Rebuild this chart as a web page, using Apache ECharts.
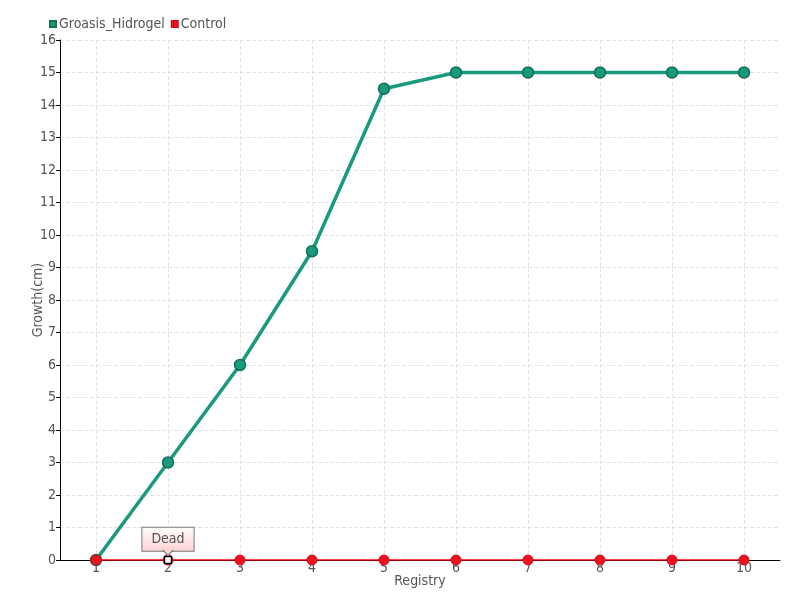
<!DOCTYPE html>
<html><head><meta charset="utf-8">
<script src="https://cdn.jsdelivr.net/npm/echarts@6/dist/echarts.min.js"></script>
<style>html,body{margin:0;padding:0;background:#fff}#c{width:800px;height:600px}</style>
</head><body><div id="c"></div>
<script>
const categories = ['1','2','3','4','5','6','7','8','9','10'];
const groasis = [0, 3, 6, 9.5, 14.5, 15, 15, 15, 15, 15];
const control = [0, 0, 0, 0, 0, 0, 0, 0, 0, 0];
const deadIndex = 1;
const FONT = '"DejaVu Sans Condensed", "Liberation Sans Narrow", sans-serif';
const chart = echarts.init(document.getElementById('c'));
chart.setOption({
  animation: false,
  textStyle: { fontFamily: FONT },
  legend: {
    left: 44, top: 12, itemWidth: 6, itemHeight: 6, itemGap: 6,
    icon: 'rect',
    textStyle: { fontFamily: FONT, fontSize: 14, color: '#555', padding: [0,0,0,-2] },
    data: ['Groasis_Hidrogel', 'Control']
  },
  grid: { left: 60, right: 20, top: 40, bottom: 40 },
  xAxis: {
    type: 'category', data: categories, boundaryGap: true,
    name: 'Registry', nameLocation: 'middle', nameGap: 14, nameMoveOverlap: false,
    nameTextStyle: { fontFamily: FONT, fontSize: 14, color: '#555' },
    axisLine: { lineStyle: { color: '#000' } },
    axisTick: { alignWithLabel: true, length: 5, lineStyle: { color: '#555' } },
    axisLabel: { fontFamily: FONT, fontSize: 14, color: '#555', margin: 1 },
    splitLine: { show: false }
  },
  yAxis: {
    type: 'value', min: 0, max: 16, interval: 1,
    name: 'Growth(cm)', nameLocation: 'middle', nameGap: 15, nameMoveOverlap: false,
    nameTextStyle: { fontFamily: FONT, fontSize: 14, color: '#555' },
    axisLine: { show: true, lineStyle: { color: '#000' } },
    axisTick: { show: true, length: 4, lineStyle: { color: '#000' } },
    axisLabel: { fontFamily: FONT, fontSize: 14, color: '#555', margin: 4 },
    splitLine: { show: true, lineStyle: { color: '#e3e3e3', type: 'dashed' } }
  },
  series: [
    {
      name: 'gridlines', type: 'line', data: [], z: 0, zlevel: 0, silent: true,
      markLine: {
        silent: true, symbol: 'none', label: { show: false },
        lineStyle: { color: '#e3e3e3', type: 'dashed', width: 1 },
        data: categories.map(c => ({ xAxis: c }))
      }
    },
    {
      name: 'Groasis_Hidrogel', type: 'line', data: groasis, zlevel: 1,
      symbol: 'circle', symbolSize: 11, z: 3,
      lineStyle: { color: '#1a9a7c', width: 3.5 },
      itemStyle: { color: '#1a9a7c', borderColor: '#157058', borderWidth: 1.5 }
    },
    {
      name: 'Control', type: 'line', data: control, zlevel: 1,
      symbol: 'circle', symbolSize: 10, z: 4,
      lineStyle: { color: '#ff0010', width: 1.6 },
      itemStyle: { color: '#f01020', borderColor: '#d01020', borderWidth: 1 },
      markPoint: {
        zlevel: 1, z: 6,
        symbol: 'rect', symbolSize: 7,
        itemStyle: { color: '#fff', borderColor: '#000', borderWidth: 1.5 },
        label: {
          show: true, position: 'top', distance: 5, formatter: 'Dead',
          fontFamily: FONT, fontSize: 14, color: '#555',
          backgroundColor: { type: 'linear', x: 0, y: 0, x2: 0, y2: 1,
            colorStops: [{ offset: 0, color: '#ffffff' }, { offset: 1, color: '#fdd0d0' }] },
          borderColor: '#777', borderWidth: 1, padding: [5, 9, 4, 9]
        },
        data: [{ coord: [deadIndex, control[deadIndex]] }]
      }
    },
    {
      name: 'pointer', type: 'line', data: [], zlevel: 1, z: 10, silent: true,
      markPoint: {
        zlevel: 1, z: 10, silent: true,
        symbol: 'path://M0,0L5,6L10,0', symbolSize: [10, 6], symbolOffset: [0, -7],
        itemStyle: { color: '#fdd0d0', borderColor: '#777', borderWidth: 1 },
        label: { show: false },
        data: [{ coord: [deadIndex, control[deadIndex]] }]
      }
    }
  ]
});
</script></body></html>
